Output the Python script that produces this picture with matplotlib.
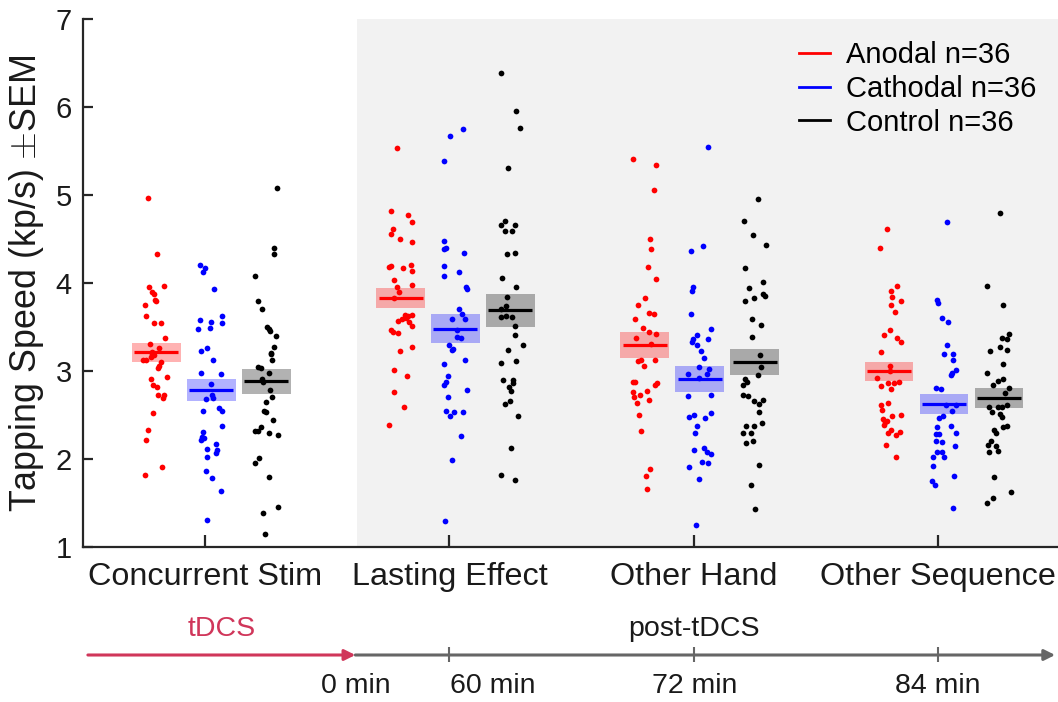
import numpy as np
import matplotlib
matplotlib.use('Agg')
import matplotlib.pyplot as plt
from matplotlib.patches import Rectangle
from matplotlib.lines import Line2D

plt.rcParams['font.family'] = ['Liberation Sans', 'DejaVu Sans']
plt.rcParams['mathtext.fontset'] = 'cm'

# ---------------- data ----------------
categories = ['Concurrent Stim', 'Lasting Effect', 'Other Hand', 'Other Sequence']
conditions = ['Anodal', 'Cathodal', 'Control']
n_subjects = [36, 36, 36]
time_labels = ['0 min', '60 min', '72 min', '84 min']
phase_labels = ['tDCS', 'post-tDCS']

anodal = [
    [4.97, 4.33, 3.96, 3.97, 3.90, 3.88, 3.81, 3.80, 3.75, 3.63, 3.55, 3.55, 3.37, 3.31, 3.26, 3.22, 3.13, 3.12,
     3.16, 3.19, 3.18, 3.10, 3.06, 3.03, 2.91, 2.93, 2.84, 2.82, 2.73, 2.73, 2.69, 2.52, 2.33, 2.22, 1.91, 1.82],
    [5.53, 4.82, 4.77, 4.69, 4.61, 4.56, 4.50, 4.47, 4.18, 4.19, 4.17, 4.20, 4.14, 4.03, 3.96, 3.98, 3.90, 3.83,
     3.64, 3.64, 3.57, 3.59, 3.60, 3.56, 3.62, 3.51, 3.47, 3.44, 3.43, 3.23, 3.27, 3.01, 2.94, 2.76, 2.59, 2.39],
    [5.41, 5.34, 5.06, 4.50, 4.39, 4.18, 4.05, 3.83, 3.75, 3.66, 3.65, 3.59, 3.49, 3.44, 3.42, 3.37, 3.31, 3.13,
     3.13, 3.11, 3.06, 2.88, 2.88, 2.84, 2.86, 2.76, 2.73, 2.77, 2.70, 2.64, 2.67, 2.50, 2.32, 1.89, 1.81, 1.66],
    [4.61, 4.40, 3.97, 3.91, 3.84, 3.80, 3.75, 3.67, 3.47, 3.41, 3.38, 3.33, 3.22, 3.06, 3.00, 2.92, 2.83, 2.86,
     2.86, 2.88, 2.80, 2.61, 2.56, 2.64, 2.49, 2.50, 2.45, 2.43, 2.39, 2.42, 2.33, 2.29, 2.31, 2.27, 2.16, 2.02],
]
cathodal = [
    [4.20, 4.17, 4.12, 3.93, 3.58, 3.56, 3.62, 3.54, 3.48, 3.49, 3.23, 3.26, 3.12, 2.98, 2.97, 2.85, 2.68, 2.73,
     2.69, 2.55, 2.58, 2.55, 2.37, 2.31, 2.25, 2.22, 2.11, 2.10, 2.07, 2.02, 1.86, 1.78, 1.64, 1.31, 2.24, 2.17],
    [5.75, 5.67, 5.39, 4.48, 4.40, 4.39, 4.34, 4.19, 4.13, 4.08, 3.95, 3.93, 3.71, 3.65, 3.59, 3.59, 3.39, 3.37,
     3.30, 3.24, 3.25, 3.08, 3.13, 2.94, 2.87, 2.84, 2.78, 2.70, 2.54, 2.49, 2.53, 2.53, 2.26, 1.99, 1.30, 3.47],
    [5.54, 4.42, 4.36, 3.96, 3.91, 3.65, 3.48, 3.41, 3.36, 3.33, 3.36, 3.30, 3.23, 3.15, 3.05, 3.02, 2.97, 2.97,
     2.92, 2.72, 2.73, 2.48, 2.50, 2.47, 2.52, 2.37, 2.30, 2.10, 2.12, 2.08, 2.06, 1.97, 1.96, 1.91, 1.77, 1.25],
    [4.69, 3.81, 3.77, 3.60, 3.56, 3.29, 3.19, 3.19, 3.13, 3.01, 2.98, 2.96, 2.81, 2.80, 2.61, 2.61, 2.54, 2.49,
     2.47, 2.36, 2.38, 2.28, 2.28, 2.29, 2.20, 2.19, 2.15, 2.08, 2.08, 2.02, 2.02, 1.92, 1.81, 1.75, 1.70, 1.44],
]
control = [
    [5.08, 4.40, 4.33, 4.08, 3.80, 3.70, 3.50, 3.48, 3.45, 3.40, 3.27, 3.21, 3.19, 3.12, 3.04, 3.03, 2.98, 2.91,
     2.87, 2.78, 2.71, 2.65, 2.55, 2.53, 2.44, 2.32, 2.32, 2.36, 2.30, 2.27, 2.01, 1.95, 1.79, 1.46, 1.39, 1.15],
    [6.39, 5.96, 5.76, 5.31, 4.66, 4.70, 4.66, 4.59, 4.59, 4.33, 4.34, 4.06, 3.95, 3.84, 3.71, 3.74, 3.61, 3.63,
     3.61, 3.51, 3.41, 3.29, 3.24, 3.09, 3.11, 2.90, 2.90, 2.86, 2.82, 2.77, 2.63, 2.66, 2.49, 2.13, 1.82, 1.76],
    [4.95, 4.71, 4.55, 4.43, 4.17, 3.94, 4.01, 3.80, 3.83, 3.88, 3.85, 3.59, 3.52, 3.39, 3.18, 3.05, 2.96, 2.91,
     2.88, 2.84, 2.73, 2.66, 2.62, 2.67, 2.53, 2.38, 2.38, 2.41, 2.29, 2.29, 2.18, 2.20, 1.93, 1.71, 1.43, 2.72],
    [4.79, 3.97, 3.75, 3.42, 3.36, 3.38, 3.23, 3.27, 3.24, 3.08, 2.98, 2.91, 2.89, 2.84, 2.81, 2.75, 2.59, 2.59,
     2.59, 2.61, 2.53, 2.51, 2.48, 2.38, 2.36, 2.33, 2.30, 2.21, 2.16, 2.15, 2.08, 2.09, 1.79, 1.62, 1.56, 1.50],
]

# horizontal jitter of each dot (category units)
anodal_jitter = [
    [-0.033, 0.005, -0.029, 0.032, -0.017, -0.009, -0.006, -0.001, -0.047, -0.043, -0.009, 0.020, 0.035, -0.025,
     0.012, -0.018, -0.053, -0.043, -0.023, -0.017, -0.009, 0.018, 0.013, 0.008, -0.020, 0.042, -0.014, 0.005,
     0.008, 0.032, 0.027, -0.013, -0.032, -0.042, 0.024, -0.046],
    [-0.016, -0.037, 0.031, 0.045, -0.030, -0.037, -0.003, 0.048, -0.049, -0.037, 0.011, 0.041, 0.049, -0.026,
     -0.016, 0.045, -0.005, -0.026, 0.018, 0.048, -0.010, 0.008, 0.022, 0.035, 0.029, 0.045, -0.040, -0.029,
     -0.012, -0.003, 0.048, -0.026, 0.025, -0.026, 0.015, -0.049],
    [-0.050, 0.045, 0.037, 0.023, 0.027, 0.014, 0.045, 0.000, -0.026, 0.016, 0.037, -0.041, -0.007, 0.018,
     0.045, -0.034, 0.027, 0.041, -0.016, -0.026, -0.003, -0.049, -0.041, 0.042, 0.052, -0.048, -0.019, 0.011,
     -0.044, -0.030, 0.018, -0.023, -0.016, 0.020, 0.007, 0.011],
    [-0.007, -0.038, 0.034, 0.007, 0.014, 0.050, 0.010, 0.023, 0.003, -0.020, 0.034, 0.050, -0.031, 0.003,
     0.004, -0.048, -0.031, -0.004, 0.020, 0.040, 0.007, -0.034, -0.030, -0.004, 0.014, 0.050, -0.025, -0.007,
     -0.020, -0.016, 0.010, -0.003, 0.046, 0.030, -0.014, 0.030],
]
cathodal_jitter = [
    [-0.047, -0.027, -0.035, 0.012, -0.046, -0.002, 0.046, 0.043, -0.054, -0.006, -0.043, -0.018, 0.008, -0.042,
     0.039, -0.001, -0.021, 0.005, 0.009, -0.035, 0.032, 0.046, 0.046, -0.033, -0.038, -0.040, -0.018, 0.025,
     0.021, -0.018, -0.023, 0.005, 0.039, -0.016, -0.030, 0.020],
    [0.030, -0.022, -0.045, -0.045, -0.040, -0.048, 0.033, -0.049, 0.015, -0.049, 0.045, 0.049, 0.015, 0.026,
     0.037, -0.015, 0.008, 0.022, -0.026, -0.015, -0.010, -0.045, 0.040, -0.031, -0.037, -0.049, 0.046, -0.031,
     -0.040, -0.022, -0.008, 0.030, 0.022, -0.015, -0.042, 0.005],
    [0.035, 0.012, -0.037, -0.029, -0.033, -0.037, 0.045, -0.010, -0.026, -0.033, 0.035, -0.012, 0.004, 0.018,
     -0.003, 0.038, 0.029, -0.049, -0.005, -0.046, 0.045, -0.042, -0.022, 0.022, 0.045, -0.010, -0.019, -0.022,
     0.018, 0.031, 0.045, 0.008, 0.035, -0.042, -0.005, -0.015],
    [0.014, -0.027, -0.023, -0.007, 0.016, 0.011, 0.000, 0.037, 0.037, 0.048, 0.034, 0.030, -0.031, -0.014,
     0.007, 0.048, 0.034, -0.003, -0.020, -0.027, 0.030, -0.034, -0.020, 0.048, -0.034, -0.007, 0.044, -0.027,
     -0.010, -0.046, -0.001, -0.046, 0.041, -0.050, -0.037, 0.038],
]
control_jitter = [
    [0.045, 0.031, 0.034, -0.044, -0.033, -0.019, 0.004, 0.010, 0.016, 0.042, 0.034, 0.018, 0.020, 0.025,
     -0.034, -0.020, 0.010, -0.018, -0.014, 0.015, 0.022, -0.001, -0.011, 0.000, 0.027, -0.045, -0.034, -0.023,
     0.011, 0.049, -0.029, -0.046, 0.011, 0.049, -0.015, -0.005],
    [-0.040, 0.023, 0.040, -0.008, -0.040, -0.021, 0.020, -0.021, 0.008, -0.013, 0.020, -0.033, 0.023, -0.013,
     -0.040, -0.017, -0.040, -0.020, 0.008, 0.017, 0.020, 0.050, -0.008, -0.040, 0.023, -0.031, 0.012, 0.009,
     -0.005, 0.003, -0.024, -0.003, 0.033, 0.003, -0.038, 0.017],
    [0.013, -0.044, -0.005, 0.046, -0.039, -0.024, 0.032, -0.039, -0.001, 0.032, 0.043, -0.010, 0.025, -0.010,
     0.023, 0.025, 0.012, -0.040, -0.032, -0.046, -0.048, -0.001, 0.017, 0.036, 0.016, -0.035, -0.002, 0.031,
     -0.046, -0.017, -0.035, -0.006, 0.016, -0.017, 0.003, -0.029],
    [0.004, -0.048, 0.018, 0.042, 0.031, 0.011, -0.035, 0.004, 0.031, 0.015, -0.049, 0.015, -0.005, -0.023,
     0.042, 0.025, -0.042, -0.005, 0.014, 0.031, -0.029, 0.004, 0.011, 0.031, 0.018, -0.020, -0.014, -0.033,
     -0.044, -0.012, -0.042, -0.005, -0.020, 0.049, -0.023, -0.049],
]

# ---------------- style ----------------
cond_colors = ['#ff0000', '#0000ff', '#000000']
group_offsets = [-0.2, 0.025, 0.25]
box_width = 0.2
mean_width = 0.18
axis_color = '#262626'
text_color = '#1a1a1a'
shade_color = '#f2f2f2'
tdcs_color = '#d0365a'
timeline_color = '#666666'

W, H = 1058, 702
fig = plt.figure(figsize=(W / 100, H / 100), dpi=100)
ax = fig.add_axes([83 / W, 1 - 547 / H, 977 / W, 528 / H])
ax.set_xlim(0.5, 4.5)
ax.set_ylim(1, 7)

ax.axvspan(1.62, 4.5, color=shade_color, lw=0, zorder=0)

all_data = [anodal, cathodal, control]
all_jitter = [anodal_jitter, cathodal_jitter, control_jitter]
for ci, (data, jit, col) in enumerate(zip(all_data, all_jitter, cond_colors)):
    for gi in range(len(categories)):
        vals = np.asarray(data[gi])
        m = vals.mean()
        sem = vals.std(ddof=1) / np.sqrt(len(vals))
        xc = gi + 1 + group_offsets[ci]
        ax.add_patch(Rectangle((xc - box_width / 2, m - sem), box_width, 2 * sem,
                               facecolor=col, alpha=0.3, lw=0, zorder=1))
        ax.plot([xc - mean_width / 2, xc + mean_width / 2], [m, m], color=col,
                lw=2.3, solid_capstyle='butt', zorder=2)
        ax.scatter(xc + np.asarray(jit[gi]), vals, s=17, color=col, lw=0, zorder=3)

for s in ['top', 'right']:
    ax.spines[s].set_visible(False)
for s in ['left', 'bottom']:
    ax.spines[s].set_color(axis_color)
    ax.spines[s].set_linewidth(1.6)

ax.set_xticks(range(1, len(categories) + 1))
ax.set_xticklabels(categories)
ax.set_yticks(range(1, 8))
ax.tick_params(axis='y', direction='in', length=7, width=1.6, color=axis_color,
               labelsize=21, labelcolor=text_color, pad=8)
ax.tick_params(axis='x', direction='in', length=8.5, width=1.6, color=axis_color,
               labelsize=23.3, labelcolor=text_color, pad=11)
ax.set_ylabel('Tapping Speed (kp/s) $\\pm$SEM', fontsize=25.8, color=text_color, labelpad=7)

handles = [Line2D([0], [0], color=c, lw=2) for c in cond_colors]
labels = [f'{c} n={n}' for c, n in zip(conditions, n_subjects)]
ax.legend(handles, labels, loc='upper left', bbox_to_anchor=(799 / W, 1 - 41 / H),
          bbox_transform=fig.transFigure, frameon=False, fontsize=21,
          handlelength=1.07, handletextpad=0.55, labelspacing=0.2,
          borderpad=0, borderaxespad=0)

# ---------------- timeline ----------------
ax2 = fig.add_axes([83 / W, 0, 977 / W, 140 / H])
ax2.set_xlim(0.5, 4.5)
ax2.set_ylim(H, H - 140)
ax2.axis('off')

line_y = 655
ax2.annotate('', xy=(1.615, line_y), xytext=(0.52, line_y),
             arrowprops=dict(arrowstyle='-|>', color=tdcs_color, lw=2.2,
                             mutation_scale=16, shrinkA=0, shrinkB=0))
ax2.annotate('', xy=(4.48, line_y), xytext=(1.615, line_y),
             arrowprops=dict(arrowstyle='-|>', color=timeline_color, lw=2.2,
                             mutation_scale=16, shrinkA=0, shrinkB=0))
ax2.vlines([2, 3, 4], line_y - 8, line_y + 7, color=timeline_color, lw=1.5)

ax2.text(1.069, 629, phase_labels[0], color=tdcs_color, ha='center', va='center', fontsize=20.5)
ax2.text(3.0, 629, phase_labels[1], color=text_color, ha='center', va='center', fontsize=20.5)
for xpos, lab in zip([1.617, 2.178, 3.005, 4.0], time_labels):
    ax2.text(xpos, 686, lab, color=text_color, ha='center', va='center', fontsize=20.5)

fig.savefig('out.png', dpi=100)
